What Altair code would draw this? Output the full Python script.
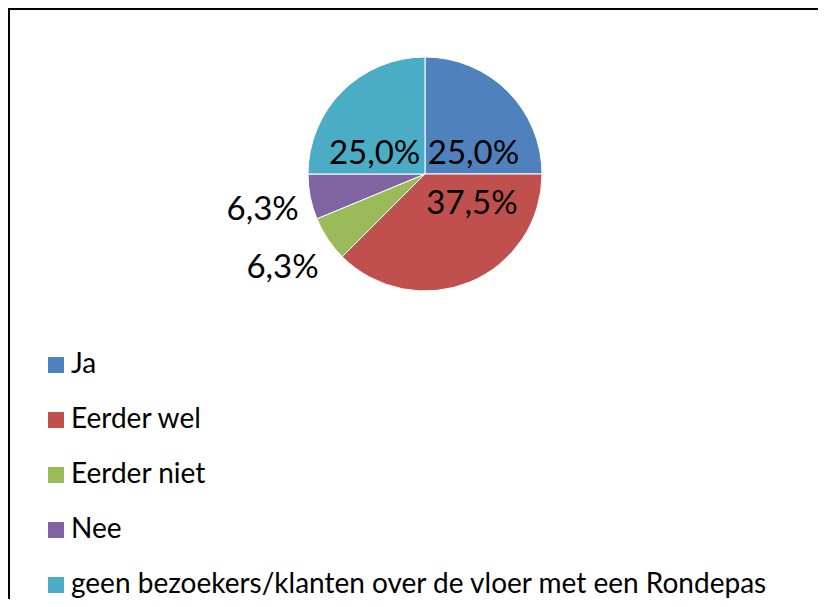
import altair as alt
import pandas as pd

# ---- data ----
categories = [
    "Ja",
    "Eerder wel",
    "Eerder niet",
    "Nee",
    "geen bezoekers/klanten over de vloer met een Rondepas",
]
percentages = [25.0, 37.5, 6.25, 6.25, 25.0]
colors = ["#4F81BD", "#C0504D", "#9BBB59", "#8064A2", "#4BACC6"]

df = pd.DataFrame({
    "categorie": categories,
    "pct": percentages,
    "volgorde": list(range(len(categories))),
})

# ---- layout / style ----
W, H = 810, 591
CX, CY, R = 417, 166, 117
FONT = "Lato"

# label placement: (radius, dx, dy) per category
label_pos = {
    "Ja": (60, 6, 22),
    "Eerder wel": (60, 24, -25),
    "Eerder niet": (140, -26, 16),
    "Nee": (140, -25, 9),
    "geen bezoekers/klanten over de vloer met een Rondepas": (60, -8, 22),
}

color = alt.Color(
    "categorie:N",
    scale=alt.Scale(domain=categories, range=colors),
    sort=categories,
    legend=alt.Legend(
        title=None,
        orient="none",
        legendX=34,
        legendY=343,
        symbolType="square",
        symbolSize=256,
        symbolStrokeWidth=0,
        symbolOpacity=1,
        labelFont=FONT,
        labelFontSize=28,
        labelColor="black",
        labelLimit=1000,
        labelOffset=1,
        rowPadding=27,
        padding=0,
    ),
)

base = alt.Chart(df).encode(
    theta=alt.Theta("pct:Q", stack=True),
    order=alt.Order("volgorde:Q"),
)

pie = base.mark_arc(outerRadius=R, stroke="white", strokeWidth=1).encode(
    x=alt.value(CX), y=alt.value(CY), color=color
)

label_expr = "replace(format(datum.pct, '.1f'), '.', ',') + '%'"
texts = []
for cat in categories:
    r, dx, dy = label_pos[cat]
    cat_js = cat.replace("'", "\\'")
    texts.append(
        base.mark_text(
            radius=r, dx=dx, dy=dy, font=FONT, fontSize=33,
            align="center", baseline="middle", color="black",
        )
        .transform_calculate(
            label=f"datum.categorie == '{cat_js}' ? {label_expr} : ''"
        )
        .encode(x=alt.value(CX), y=alt.value(CY), text="label:N")
    )

frame_df = pd.DataFrame({"k": [0]})
top_border = alt.Chart(frame_df).mark_rule(color="black", strokeWidth=2).encode(
    x=alt.value(0), x2=alt.value(W + 30), y=alt.value(1)
)
left_border = alt.Chart(frame_df).mark_rule(color="black", strokeWidth=2).encode(
    x=alt.value(1), y=alt.value(0), y2=alt.value(H)
)

chart = (
    alt.layer(pie, *texts, top_border, left_border)
    .properties(width=W, height=H, padding=0, autosize=alt.AutoSizeParams(type="none"), background="white")
    .configure_view(strokeWidth=0, stroke="transparent")
)

chart.save("out.html", embed_options={"renderer": "svg", "actions": False})
